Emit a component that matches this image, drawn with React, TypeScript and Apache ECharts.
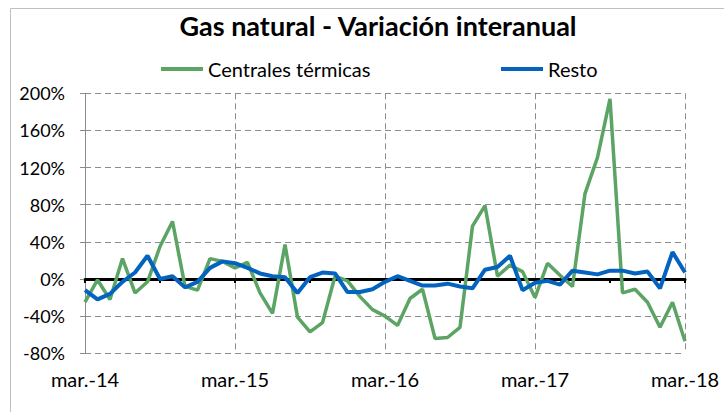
import React, { useEffect, useRef } from "react";
import * as echarts from "echarts";

const months = ["ene.", "feb.", "mar.", "abr.", "may.", "jun.", "jul.", "ago.", "sep.", "oct.", "nov.", "dic."];
const categories: string[] = [];
for (let y = 14; y <= 18; y++) {
  for (let m = 0; m < 12; m++) {
    if (y === 14 && m < 2) continue;
    if (y === 18 && m > 2) continue;
    categories.push(`${months[m]}-${y}`);
  }
}

const centrales = [-25, -1, -22, 22, -15, -3, 35, 62, -8, -12, 22, 19, 12, 18, -15, -37, 37, -41, -57, -47, 3, -2, -19, -33,
  -40, -50, -21, -11, -64, -63, -52, 57, 79, 3, 15, 8, -20, 17, 4, -8, 92, 131, 194, -15, -11, -25, -52, -25, -67];
const resto = [-12, -22, -16, -3, 7, 25, 0, 3, -9, -3, 12, 19, 17, 12, 6, 3, 2, -15, 2, 7, 6, -14, -14, -11,
  -3, 3, -2, -7, -7, -5, -8, -10, 10, 13, 25, -12, -4, -2, -6, 9, 7, 5, 9, 9, 6, 8, -10, 29, 7];

const titleText = "Gas natural - Variación interanual";
const seriesNames = ["Centrales térmicas", "Resto"];
const yMin = -80;
const yMax = 200;
const yStep = 40;

const FONT = "Lato, 'Open Sans', sans-serif";
const GREEN = "#5ba463";
const BLUE = "#0563c0";

export default function App() {
  const ref = useRef<HTMLDivElement>(null);
  useEffect(() => {
    if (!ref.current) return;
    const chart = echarts.init(ref.current, undefined, { renderer: "svg" });
    chart.setOption({
      animation: false,
      textStyle: { fontFamily: FONT },
      graphic: [
        {
          type: "rect",
          shape: { x: 10.5, y: 8.5, width: 800, height: 500 },
          style: { fill: "none", stroke: "#c0c0c0", lineWidth: 1 },
          silent: true,
        },
        {
          type: "text",
          x: 378,
          y: 12,
          style: {
            text: titleText,
            fontFamily: FONT,
            fontSize: 27,
            fontWeight: "bold",
            fill: "#000",
            textAlign: "center",
          },
        },
      ],
      legend: [
        {
          data: [seriesNames[0]],
          left: 156,
          top: 54,
          icon: "rect",
          itemWidth: 42,
          itemHeight: 4,
          textStyle: { fontFamily: FONT, fontSize: 20, color: "#000" },
        },
        {
          data: [seriesNames[1]],
          left: 496,
          top: 54,
          icon: "rect",
          itemWidth: 42,
          itemHeight: 4,
          textStyle: { fontFamily: FONT, fontSize: 20, color: "#000" },
        },
      ],
      grid: { left: 85, right: 39, top: 93.3, bottom: 58.7 },
      xAxis: [
        {
          type: "category",
          data: categories,
          boundaryGap: false,
          position: "bottom",
          axisLine: { show: false, onZero: false },
          axisTick: { show: false },
          axisLabel: {
            interval: 11,
            margin: 16,
            fontFamily: FONT,
            fontSize: 20,
            color: "#000",
            showMaxLabel: true,
          },
          splitLine: {
            show: true,
            interval: 11,
            lineStyle: { color: "#8c8c8c", type: [6, 4], width: 1 },
          },
        },
        {
          type: "category",
          data: categories,
          boundaryGap: false,
          position: "top",
          axisLine: { show: true, onZero: true, lineStyle: { color: "#000", width: 3 } },
          axisTick: { show: true, interval: 5, inside: true, length: 4, lineStyle: { color: "#000", width: 2 } },
          axisLabel: { show: false },
          splitLine: { show: false },
        },
      ],
      yAxis: {
        type: "value",
        min: yMin,
        max: yMax,
        interval: yStep,
        axisLine: { show: true, lineStyle: { color: "#8c8c8c", width: 1 } },
        axisTick: { show: true, length: 5, lineStyle: { color: "#8c8c8c" } },
        axisLabel: {
          formatter: (v: number) => `${v}%`,
          margin: 20,
          fontFamily: FONT,
          fontSize: 18,
          color: "#000",
        },
        splitLine: { show: true, lineStyle: { color: "#8c8c8c", type: [6, 4], width: 1 } },
      },
      series: [
        {
          name: seriesNames[0],
          type: "line",
          data: centrales,
          showSymbol: false,
          symbol: "none",
          lineStyle: { color: GREEN, width: 3.5 },
          itemStyle: { color: GREEN },
          z: 3,
        },
        {
          name: seriesNames[1],
          type: "line",
          data: resto,
          showSymbol: false,
          symbol: "none",
          lineStyle: { color: BLUE, width: 4 },
          itemStyle: { color: BLUE },
          z: 4,
        },
      ],
    });
    return () => chart.dispose();
  }, []);
  return (
    <div
      ref={ref}
      style={{ position: "absolute", left: 0, top: 0, width: 724, height: 412, background: "#fff" }}
    />
  );
}
